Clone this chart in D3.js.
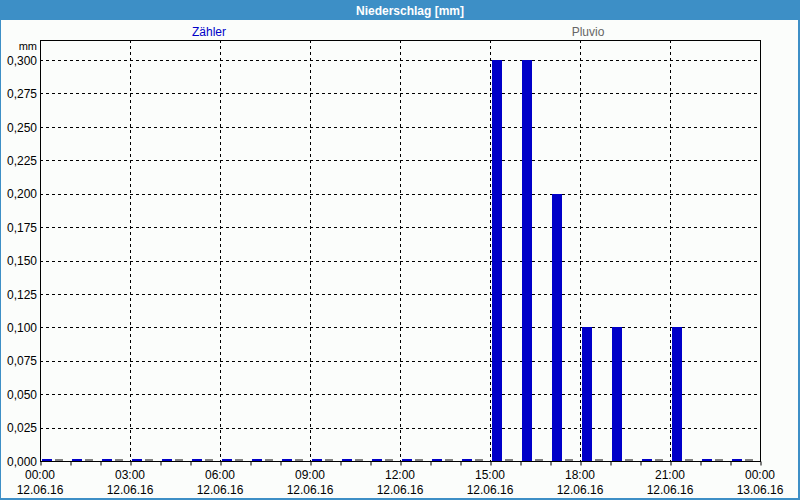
<!DOCTYPE html>
<html><head><meta charset="utf-8">
<script src="https://cdn.jsdelivr.net/npm/d3@7"></script>
<style>body{margin:0;background:#fff}svg{display:block}text{font-family:"Liberation Sans",Arial,sans-serif}</style>
</head><body>
<svg id="c" width="800" height="500"></svg>
<script>
const title = "Niederschlag [mm]";
const seriesNames = ["Zähler", "Pluvio"];
const hours = d3.range(0, 24);
const zaehler = [0,0,0,0,0,0,0,0,0,0,0,0,0,0,0,0.3,0.3,0.2,0.1,0.1,0,0.1,0,0];
const pluvio  = [0,0,0,0,0,0,0,0,0,0,0,0,0,0,0,0,0,0,0,0,0,0,0,0];
const xTickHours = [0,3,6,9,12,15,18,21,24];
const xTickTimes = ["00:00","03:00","06:00","09:00","12:00","15:00","18:00","21:00","00:00"];
const xTickDates = ["12.06.16","12.06.16","12.06.16","12.06.16","12.06.16","12.06.16","12.06.16","12.06.16","13.06.16"];
const yTicks = d3.range(0, 0.3001, 0.025);
const yUnit = "mm";

const svg = d3.select("#c");
const W=800,H=500;
const m={l:40,r:40,t:40,b:39};
svg.append("rect").attr("width",W).attr("height",H).attr("fill","#3d8fc6");
svg.append("rect").attr("x",1).attr("y",20).attr("width",W-3).attr("height",H-22).attr("fill","#fbfdfb");
svg.append("text").attr("x",410).attr("y",15).attr("text-anchor","middle").attr("fill","#fff")
  .attr("font-size",12).attr("font-weight","bold").text(title);

const x = d3.scaleLinear().domain([0,24]).range([m.l, W-m.r]);
const y = d3.scaleLinear().domain([0,0.315]).range([H-m.b, m.t]);
const fmt = v => d3.format(".3f")(v).replace(".",",");

const g = svg.append("g");
g.selectAll(".hg").data(yTicks.slice(1)).join("line")
  .attr("x1",x(0)).attr("x2",x(24)).attr("y1",d=>Math.round(y(d))+0.5).attr("y2",d=>Math.round(y(d))+0.5)
  .attr("stroke","#000").attr("stroke-dasharray","3,3");
g.selectAll(".vg").data(xTickHours.slice(1,-1)).join("line")
  .attr("x1",d=>Math.round(x(d))+0.5).attr("x2",d=>Math.round(x(d))+0.5).attr("y1",y(0.315)).attr("y2",y(0))
  .attr("stroke","#000").attr("stroke-dasharray","3,3");

function bars(data, off, bw, color){
  g.selectAll(null).data(hours).join("rect")
    .attr("x",h=>Math.round(x(h))+off).attr("width",bw)
    .attr("y",h=>Math.min(Math.round(y(data[h])), Math.round(y(0))-2))
    .attr("height",h=>Math.max(2, Math.round(y(0))-Math.round(y(data[h]))))
    .attr("fill",color);
}
bars(zaehler, 2, 10, "#0000c8");
bars(pluvio, 15, 8, "#808080");

svg.append("rect").attr("x",x(0)+0.5).attr("y",y(0.315)+0.5).attr("width",x(24)-x(0)).attr("height",y(0)-y(0.315))
  .attr("fill","none").attr("stroke","#000");

const xa = d3.axisBottom(x).tickValues(d3.range(0,25)).tickSize(4).tickFormat("");
const xg = svg.append("g").attr("transform",`translate(0.5,${y(0)+0.5})`).call(xa);
xg.select(".domain").remove();
xg.selectAll("line").attr("stroke","#000");
const lab = svg.append("g");
lab.selectAll(".t1").data(xTickHours).join("text").attr("x",d=>x(d)).attr("y",479).attr("text-anchor","middle")
  .attr("font-size",12).attr("fill","#000").text((d,i)=>xTickTimes[i]);
lab.selectAll(".t2").data(xTickHours).join("text").attr("x",d=>x(d)).attr("y",494).attr("text-anchor","middle")
  .attr("font-size",12).attr("fill","#000").text((d,i)=>xTickDates[i]);

const ya = d3.axisLeft(y).tickValues(yTicks).tickSize(0).tickPadding(3).tickFormat(fmt);
const yg = svg.append("g").attr("transform",`translate(${x(0)},0)`).call(ya);
yg.select(".domain").remove();
yg.selectAll("text").attr("font-size",12).attr("fill","#000").attr("font-family","Liberation Sans, Arial, sans-serif").attr("dy","0.35em");
svg.append("text").attr("x",x(0)-3).attr("y",50).attr("text-anchor","end").attr("font-size",11).attr("fill","#000").text(yUnit);

svg.append("text").attr("x",209).attr("y",36).attr("text-anchor","middle").attr("font-size",12).attr("fill","#0000c8").text(seriesNames[0]);
svg.append("text").attr("x",588).attr("y",36).attr("text-anchor","middle").attr("font-size",12).attr("fill","#666").text(seriesNames[1]);
</script>
</body></html>
